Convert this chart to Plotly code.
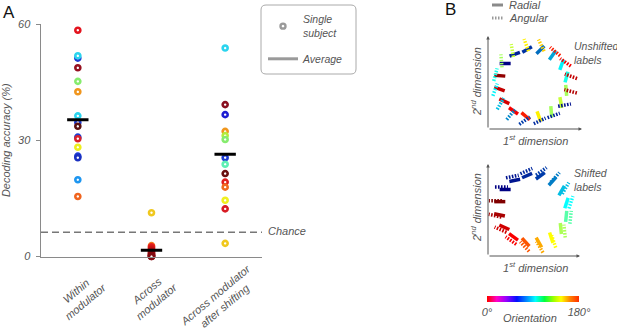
import plotly.graph_objects as go
import plotly.colors as pc
import math

W, H = 617, 329

# ---------------- Panel A data ----------------
condition_labels = ["Within<br>modulator", "Across<br>modulator", "Across modulator<br>after shifting"]
tick_values_y = [0, 30, 60]
chance_level = 6.25

within_values = [58.4, 51.2, 51.8, 48.7, 45.2, 42.5, 34.6, 36.3, 33.6, 30.8, 30.4, 28.2, 25.9, 25.5, 19.8, 15.5]
within_colors = ["#e3141e", "#1e3cd2", "#2ad4ee", "#961020", "#86ec6e", "#f0961e", "#1e3cd2", "#2ad4ee",
                 "#5a1212", "#1e3cd2", "#d8202a", "#eeee1e", "#1e3cd2", "#1a30c0", "#1e96f0", "#f0641e"]

across_values = [11.3, 2.8, 2.5, 2.2, 1.9, 1.6, 1.3, 1.0, 0.8, 0.6, 0.4, 0.3, 0.2, 0.1, 0.0, 0.0]
across_colors = ["#f0c81e", "#f07a1e", "#e82020", "#dc1c1c", "#d01818", "#c41414", "#b81212", "#ac1010",
                 "#a00e14", "#a00e14", "#940c12", "#940c12", "#880a10", "#880a10", "#800a10", "#800a10"]

shifted_values = [53.8, 39.2, 36.6, 32.3, 31.2, 30.2, 25.5, 23.8, 21.4, 19.2, 17.9, 14.5, 12.3, 3.4]
shifted_colors = ["#2ad4ee", "#8a1020", "#1e1ed2", "#f0961e", "#b4ec3c", "#86ec6e", "#1e3cd2", "#5ef0b4",
                  "#6a1010", "#e01e1e", "#f06a1e", "#f0f01e", "#d81c24", "#f0c81e"]

average_values = [35.3, 1.6, 26.4]

# ---------------- Panel B data ----------------
positions_deg = [145, 122.5, 100, 77.5, 55, 32.5, 10, -12.5, -35, -57.5, -80, -102.5, -125, -147.5, -170, -192.5]
unshifted_radial = [0, 20, 30, 45, 55, 70, 75, 95, 100, 95, 110, 140, 145, 155, 160, 175]
unshifted_angular = [95, 100, 110, 115, 140, 145, 160, 165, 10, 20, 25, 35, 50, 60, 70, 75]
shifted_radial = [0, 12, 24, 36, 48, 60, 72, 84, 96, 108, 120, 132, 144, 156, 168, 180]
shifted_angular = [0, 12, 24, 36, 48, 60, 72, 84, 96, 108, 120, 132, 144, 156, 168, 180]

orientation_range = [0, 180]
orientation_ticks = ["0°", "180°"]

FONT = "Liberation Sans, Arial, sans-serif"
TXT = "#555555"
AX = "#8a8a8a"

fig = go.Figure()

# ---- Panel A: single subjects ----
for i, (vals, cols) in enumerate([(within_values, within_colors),
                                  (across_values, across_colors),
                                  (shifted_values, shifted_colors)]):
    fig.add_trace(go.Scatter(
        x=[i] * len(vals), y=vals, mode="markers", cliponaxis=False,
        marker=dict(size=5, color="white", line=dict(color=cols, width=2.6)),
        showlegend=False, hoverinfo="skip"))

# ---- Panel A: averages ----
for i, avg in enumerate(average_values):
    fig.add_trace(go.Scatter(
        x=[i - 0.145, i + 0.145], y=[avg, avg], mode="lines", cliponaxis=False,
        line=dict(color="black", width=3), showlegend=False, hoverinfo="skip"))

# legend entries
fig.add_trace(go.Scatter(x=[None], y=[None], mode="markers", name="Single<br>subject", legendgroup="a",
                         marker=dict(size=5, color="white", line=dict(color="#9a9a9a", width=2.4))))
fig.add_trace(go.Scatter(x=[None], y=[None], mode="lines", name="Average", legendgroup="b",
                         line=dict(color="#9a9a9a", width=3)))

# ---- Panel B segments ----
jet = pc.get_colorscale("Jet")


def seg_color(o):
    return pc.sample_colorscale(jet, [o / 180.0], colortype="rgb")[0]


def add_segments(xa, ya, center, radial, angular):
    cx, cy = center
    for pos, orad, oang in zip(positions_deg, radial, angular):
        a = math.radians(pos)
        for o, r, ln, dash, wd in [(orad, 34, 11, "solid", 3.5), (oang, 38.5, 13, "1.6px,1.4px", 3.5)]:
            mx, my = cx + r * math.cos(a), cy + r * math.sin(a)
            p = math.radians(o)
            dx, dy = ln / 2 * math.cos(p), ln / 2 * math.sin(p)
            fig.add_trace(go.Scatter(
                x=[mx - dx, mx + dx], y=[my - dy, my + dy], mode="lines",
                xaxis=xa, yaxis=ya, cliponaxis=False,
                line=dict(color=seg_color(o), width=wd, dash=dash),
                showlegend=False, hoverinfo="skip"))


add_segments("x2", "y2", (45, 46), unshifted_radial, unshifted_angular)
add_segments("x3", "y3", (45, 47), shifted_radial, shifted_angular)

# ---- orientation colour bar as a smoothed heatmap ----
orient_scale = [[0, "#ff0000"], [0.1, "#ff00c8"], [0.2, "#9a00ff"], [0.32, "#0010ff"],
                [0.45, "#00a8ff"], [0.52, "#00ffff"], [0.62, "#00ff40"], [0.72, "#a0ff00"],
                [0.8, "#ffff00"], [0.9, "#ff8000"], [1, "#ff2800"]]
fig.add_trace(go.Heatmap(
    x=orientation_range, y=[0, 1], z=[orientation_range, orientation_range], zsmooth="best",
    colorscale=orient_scale, zmin=0, zmax=180, showscale=False, xaxis="x4", yaxis="y4",
    hoverinfo="skip"))

italic = dict(family=FONT, size=11, color=TXT, style="italic")

annotations = [
    dict(text="A", x=1 / W, y=1 - 12 / H, xanchor="left", yanchor="middle", font=dict(family=FONT, size=17, color="#111")),
    dict(text="B", x=443 / W, y=1 - 10 / H, xanchor="left", yanchor="middle", font=dict(family=FONT, size=17, color="#111")),
    dict(text="Chance", x=266 / W, y=1 - 231 / H, xanchor="left", yanchor="middle", font=italic),
    dict(text="Radial", x=507 / W, y=1 - 5 / H, xanchor="left", yanchor="middle", font=italic),
    dict(text="Angular", x=507 / W, y=1 - 18 / H, xanchor="left", yanchor="middle", font=italic),
    dict(text="Unshifted<br>labels", x=572 / W, y=1 - 53 / H, xanchor="left", yanchor="middle", align="left",
         font=dict(italic, size=10.5)),
    dict(text="Shifted<br>labels", x=572 / W, y=1 - 180 / H, xanchor="left", yanchor="middle", align="left",
         font=dict(italic, size=10.5)),
    dict(text="2<sup>nd</sup> dimension", x=476 / W, y=1 - 82 / H, textangle=-90, xanchor="center", yanchor="middle", font=italic),
    dict(text="1<sup>st</sup> dimension", x=535 / W, y=1 - 140 / H, xanchor="center", yanchor="middle", font=italic),
    dict(text="2<sup>nd</sup> dimension", x=476 / W, y=1 - 208 / H, textangle=-90, xanchor="center", yanchor="middle", font=italic),
    dict(text="1<sup>st</sup> dimension", x=535 / W, y=1 - 267 / H, xanchor="center", yanchor="middle", font=italic),
    dict(text="Orientation", x=530 / W, y=1 - 318 / H, xanchor="center", yanchor="middle", font=italic),
]
# rotated category labels of panel A (placed under each category)
label_offsets = [(3, 296), (0, 296), (-5, 300)]
for i, (lab, (dx, py)) in enumerate(zip(condition_labels, label_offsets)):
    annotations.append(dict(text=lab, x=i, xref="x", xshift=dx, y=1 - py / H, yref="paper", textangle=-40,
                            xanchor="center", yanchor="middle", align="center", font=italic))
# axis arrows for panel B
for ox, oy, tx, ty in [(488, 129, 582, 129), (488, 129, 488, 36), (488, 256, 580, 256), (488, 256, 488, 164)]:
    annotations.append(dict(text="", x=tx / W, y=1 - ty / H, ax=ox - tx, ay=oy - ty, axref="pixel", ayref="pixel",
                            showarrow=True, arrowhead=2, arrowsize=0.7, arrowwidth=1, arrowcolor="#555"))
for a in annotations:
    a.setdefault("xref", "paper")
    a.setdefault("yref", "paper")
    if "showarrow" not in a:
        a["showarrow"] = False


def rounded_rect(x0, y0, x1, y1, r):
    X = lambda v: v / W
    Y = lambda v: 1 - v / H
    return (f"M {X(x0 + r)} {Y(y0)} L {X(x1 - r)} {Y(y0)} Q {X(x1)} {Y(y0)} {X(x1)} {Y(y0 + r)} "
            f"L {X(x1)} {Y(y1 - r)} Q {X(x1)} {Y(y1)} {X(x1 - r)} {Y(y1)} "
            f"L {X(x0 + r)} {Y(y1)} Q {X(x0)} {Y(y1)} {X(x0)} {Y(y1 - r)} "
            f"L {X(x0)} {Y(y0 + r)} Q {X(x0)} {Y(y0)} {X(x0 + r)} {Y(y0)} Z")


shapes = [
    dict(type="line", xref="x", yref="y", x0=-0.5, x1=2.5, y0=chance_level, y1=chance_level,
         line=dict(color="#777", width=1.5, dash="7px,4px")),
    dict(type="path", xref="paper", yref="paper", path=rounded_rect(261, 5, 356, 74, 5),
         line=dict(color="#aaaaaa", width=1)),
    dict(type="line", xref="paper", yref="paper", x0=492 / W, x1=503 / W, y0=1 - 5 / H, y1=1 - 5 / H,
         line=dict(color="#8a8a8a", width=3)),
    dict(type="line", xref="paper", yref="paper", x0=492 / W, x1=503 / W, y0=1 - 18 / H, y1=1 - 18 / H,
         line=dict(color="#9a9a9a", width=3, dash="1.5px,1.5px")),
]

hidden = dict(visible=False, showgrid=False, zeroline=False, automargin=False)

fig.update_layout(
    width=W, height=H, margin=dict(l=0, r=0, t=0, b=0, autoexpand=False),
    paper_bgcolor="white", plot_bgcolor="rgba(0,0,0,0)",
    font=dict(family=FONT, size=11, color=TXT),
    showlegend=True,
    legend=dict(x=263 / W, y=1 - 6 / H, xanchor="left", yanchor="top", bgcolor="rgba(0,0,0,0)",
                font=dict(italic, size=10.5), itemclick=False, itemdoubleclick=False, tracegroupgap=8,
                traceorder="grouped"),
    xaxis=dict(domain=[41 / W, 262 / W], range=[-0.5, 2.5], tickvals=[0, 1, 2], showticklabels=False,
               showline=True, linecolor=AX, linewidth=1.5, ticks="", showgrid=False,
               zeroline=False, anchor="y", automargin=False),
    yaxis=dict(domain=[1 - 256.5 / H, 1 - 24 / H], range=[0, 60], tickvals=tick_values_y, ticks="outside",
               ticklen=4, tickcolor=AX, showline=True, linecolor=AX, linewidth=1.5, showgrid=False,
               zeroline=False, tickfont=italic, anchor="x", automargin=False, ticklabelstandoff=3,
               title=dict(text="Decoding accuracy (%)", font=italic, standoff=5)),
    xaxis2=dict(domain=[488 / W, 580 / W], range=[0, 92], anchor="y2", **hidden),
    yaxis2=dict(domain=[1 - 129 / H, 1 - 38 / H], range=[0, 91], anchor="x2", **hidden),
    xaxis3=dict(domain=[488 / W, 578 / W], range=[0, 90], anchor="y3", **hidden),
    yaxis3=dict(domain=[1 - 256 / H, 1 - 165 / H], range=[0, 91], anchor="x3", **hidden),
    xaxis4=dict(domain=[487 / W, 579 / W], range=orientation_range, anchor="y4", tickvals=orientation_range,
                ticktext=orientation_ticks, ticks="", showgrid=False, zeroline=False, showline=False,
                tickfont=italic, automargin=False, ticklabelstandoff=2),
    yaxis4=dict(domain=[1 - 302 / H, 1 - 296 / H], range=[0, 1], anchor="x4", visible=False, automargin=False),
    annotations=annotations, shapes=shapes,
)

fig.write_html("out.html", config={"displayModeBar": False, "staticPlot": True},
               post_script="document.body.style.margin='0px';")
